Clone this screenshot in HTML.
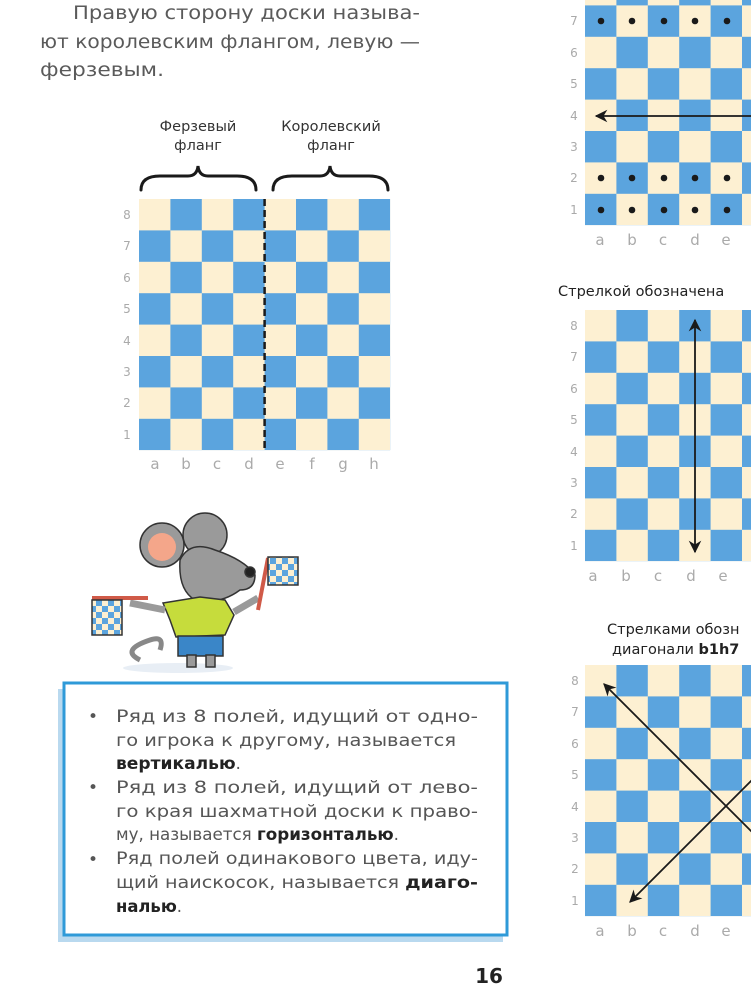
<!DOCTYPE html>
<html><head><meta charset="utf-8"><style>
html,body{margin:0;padding:0;background:#fff;width:751px;height:1001px;overflow:hidden}
svg{display:block}
.t{font-family:"DejaVu Sans","Liberation Sans",sans-serif}
</style></head><body>
<svg width="751" height="1001" viewBox="0 0 751 1001" xmlns="http://www.w3.org/2000/svg">
<defs>
<pattern id="p1" patternUnits="userSpaceOnUse" x="139" y="199" width="62.8" height="62.8"><rect width="62.8" height="62.8" fill="#fdf0d2"/><rect x="31.4" width="31.4" height="31.4" fill="#5ba4de"/><rect y="31.4" width="31.4" height="31.4" fill="#5ba4de"/></pattern>
<pattern id="p2" patternUnits="userSpaceOnUse" x="585" y="-26" width="62.8" height="62.8"><rect width="62.8" height="62.8" fill="#fdf0d2"/><rect x="31.4" width="31.4" height="31.4" fill="#5ba4de"/><rect y="31.4" width="31.4" height="31.4" fill="#5ba4de"/></pattern>
<pattern id="p3" patternUnits="userSpaceOnUse" x="585" y="310" width="62.8" height="62.8"><rect width="62.8" height="62.8" fill="#fdf0d2"/><rect x="31.4" width="31.4" height="31.4" fill="#5ba4de"/><rect y="31.4" width="31.4" height="31.4" fill="#5ba4de"/></pattern>
<pattern id="p4" patternUnits="userSpaceOnUse" x="585" y="665" width="62.8" height="62.8"><rect width="62.8" height="62.8" fill="#fdf0d2"/><rect x="31.4" width="31.4" height="31.4" fill="#5ba4de"/><rect y="31.4" width="31.4" height="31.4" fill="#5ba4de"/></pattern>
<pattern id="fl" patternUnits="userSpaceOnUse" width="12" height="12"><rect width="12" height="12" fill="#fdf0d2"/><rect width="6" height="6" fill="#5ba4de"/><rect x="6" y="6" width="6" height="6" fill="#5ba4de"/></pattern>
<marker id="ah" viewBox="0 0 10 10" refX="9" refY="5" markerWidth="7" markerHeight="7" orient="auto-start-reverse"><path d="M0,0 L10,5 L0,10 L3,5z" fill="#1a1a1a"/></marker>
</defs>

<g class="t" font-size="19" fill="#5a5a5a">
<text x="73" y="19" textLength="347" lengthAdjust="spacingAndGlyphs">Правую сторону доски называ-</text>
<text x="40" y="48" textLength="380" lengthAdjust="spacingAndGlyphs">ют королевским флангом, левую —</text>
<text x="40" y="76" textLength="124" lengthAdjust="spacingAndGlyphs">ферзевым.</text>
</g>

<g class="t" font-size="14.5" fill="#333" text-anchor="middle">
<text x="198" y="131">Ферзевый</text><text x="198" y="150">фланг</text>
<text x="331" y="131">Королевский</text><text x="331" y="150">фланг</text>
</g>
<g fill="none" stroke="#1a1a1a" stroke-width="3" stroke-linecap="round">
<path d="M141,190 Q141,176 160,176 L188,176 Q197,176 198,166 Q199,176 208,176 L237,176 Q256,176 256,190"/>
<path d="M273,190 Q273,176 292,176 L320,176 Q329,176 330,166 Q331,176 340,176 L369,176 Q388,176 388,190"/>
</g>

<rect x="139" y="199" width="251.2" height="251.2" fill="url(#p1)"/>
<line x1="264.6" y1="199" x2="264.6" y2="451" stroke="#1a1a1a" stroke-width="2.5" stroke-dasharray="7,4"/>
<g class="t" font-size="12" fill="#aaa" text-anchor="middle">
<text x="127" y="219">8</text><text x="127" y="250">7</text><text x="127" y="282">6</text><text x="127" y="313">5</text><text x="127" y="345">4</text><text x="127" y="376">3</text><text x="127" y="407">2</text><text x="127" y="439">1</text>
</g>
<g class="t" font-size="15" fill="#aaa" text-anchor="middle">
<text x="155" y="469">a</text><text x="186" y="469">b</text><text x="217" y="469">c</text><text x="249" y="469">d</text><text x="280" y="469">e</text><text x="312" y="469">f</text><text x="343" y="469">g</text><text x="374" y="469">h</text>
</g>

<rect x="585" y="-26" width="251.2" height="251.2" fill="url(#p2)"/>
<g fill="#1a1a1a">
<circle cx="601" cy="21" r="3.3"/><circle cx="632" cy="21" r="3.3"/><circle cx="664" cy="21" r="3.3"/><circle cx="695" cy="21" r="3.3"/><circle cx="727" cy="21" r="3.3"/>
<circle cx="601" cy="178" r="3.3"/><circle cx="632" cy="178" r="3.3"/><circle cx="664" cy="178" r="3.3"/><circle cx="695" cy="178" r="3.3"/><circle cx="727" cy="178" r="3.3"/>
<circle cx="601" cy="210" r="3.3"/><circle cx="632" cy="210" r="3.3"/><circle cx="664" cy="210" r="3.3"/><circle cx="695" cy="210" r="3.3"/><circle cx="727" cy="210" r="3.3"/>
</g>
<line x1="760" y1="116" x2="596" y2="116" stroke="#1a1a1a" stroke-width="1.8" marker-end="url(#ah)"/>
<g class="t" font-size="12" fill="#aaa" text-anchor="middle">
<text x="574" y="25">7</text><text x="574" y="57">6</text><text x="574" y="88">5</text><text x="574" y="120">4</text><text x="574" y="151">3</text><text x="574" y="182">2</text><text x="574" y="214">1</text>
</g>
<g class="t" font-size="15" fill="#aaa" text-anchor="middle">
<text x="600" y="245">a</text><text x="632" y="245">b</text><text x="663" y="245">c</text><text x="695" y="245">d</text><text x="726" y="245">e</text>
</g>

<text class="t" x="558" y="296" font-size="14.5" fill="#222">Стрелкой обозначена</text>

<rect x="585" y="310" width="251.2" height="251.2" fill="url(#p3)"/>
<line x1="695" y1="552" x2="695" y2="320" stroke="#1a1a1a" stroke-width="1.8" marker-start="url(#ah)" marker-end="url(#ah)"/>
<g class="t" font-size="12" fill="#aaa" text-anchor="middle">
<text x="574" y="330">8</text><text x="574" y="361">7</text><text x="574" y="393">6</text><text x="574" y="424">5</text><text x="574" y="456">4</text><text x="574" y="487">3</text><text x="574" y="518">2</text><text x="574" y="550">1</text>
</g>
<g class="t" font-size="15" fill="#aaa" text-anchor="middle">
<text x="593" y="581">a</text><text x="626" y="581">b</text><text x="658" y="581">c</text><text x="691" y="581">d</text><text x="723" y="581">e</text>
</g>

<g class="t" font-size="14.5" fill="#222">
<text x="607" y="634">Стрелками обозн</text>
<text x="612" y="654">диагонали <tspan font-weight="bold">b1h7</tspan></text>
</g>

<rect x="585" y="665" width="251.2" height="251.2" fill="url(#p4)"/>
<line x1="760" y1="840" x2="604" y2="684" stroke="#1a1a1a" stroke-width="1.8" marker-end="url(#ah)"/>
<line x1="760" y1="772" x2="630" y2="902" stroke="#1a1a1a" stroke-width="1.8" marker-end="url(#ah)"/>
<g class="t" font-size="12" fill="#aaa" text-anchor="middle">
<text x="575" y="685">8</text><text x="575" y="716">7</text><text x="575" y="748">6</text><text x="575" y="779">5</text><text x="575" y="811">4</text><text x="575" y="842">3</text><text x="575" y="873">2</text><text x="575" y="905">1</text>
</g>
<g class="t" font-size="15" fill="#aaa" text-anchor="middle">
<text x="600" y="936">a</text><text x="632" y="936">b</text><text x="663" y="936">c</text><text x="695" y="936">d</text><text x="726" y="936">e</text>
</g>

<g stroke="#333" stroke-width="1.5">
<ellipse cx="178" cy="668" rx="55" ry="5" fill="#e8eef5" stroke="none"/>
<path d="M140,660 Q120,650 150,640 Q165,635 160,650" fill="none" stroke-width="5" stroke="#888"/>
<circle cx="162" cy="545" r="22" fill="#9a9a9a"/>
<circle cx="162" cy="547" r="14" fill="#f4a68a" stroke="none"/>
<circle cx="205" cy="535" r="22" fill="#9a9a9a"/>
<path d="M180,560 Q190,540 215,550 Q245,560 255,575 Q255,590 240,590 Q220,605 195,600 Q178,590 180,560z" fill="#9a9a9a"/>
<circle cx="250" cy="572" r="5" fill="#222"/>
<path d="M163,603 L200,597 L225,600 L234,615 L225,635 L176,637 L170,620z" fill="#c6dc3c"/>
<rect x="178" y="636" width="45" height="20" fill="#3a86c8"/>
<rect x="187" y="655" width="9" height="12" fill="#9a9a9a"/><rect x="206" y="655" width="9" height="12" fill="#9a9a9a"/>
<path d="M165,610 L130,603" stroke="#9a9a9a" stroke-width="7"/>
<path d="M234,612 L258,598" stroke="#9a9a9a" stroke-width="7"/>
<line x1="92" y1="598" x2="148" y2="598" stroke="#d05a48" stroke-width="4"/>
<rect x="92" y="600" width="30" height="35" fill="url(#fl)"/>
<line x1="268" y1="558" x2="258" y2="610" stroke="#d05a48" stroke-width="4"/>
<rect x="268" y="557" width="30" height="28" fill="url(#fl)"/>
</g>

<rect x="58" y="689" width="445" height="253" fill="#b9d9ef"/>
<rect x="64" y="683" width="443" height="252" fill="#fff" stroke="#2f9ad8" stroke-width="3"/>
<g class="t" font-size="17" fill="#555">
<text x="88" y="722">•</text><text x="88" y="793">•</text><text x="88" y="865">•</text>
<text x="116" y="722" textLength="362" lengthAdjust="spacingAndGlyphs">Ряд из 8 полей, идущий от одно-</text>
<text x="116" y="746" textLength="340" lengthAdjust="spacingAndGlyphs">го игрока к другому, называется</text>
<text x="116" y="769" textLength="125" lengthAdjust="spacingAndGlyphs"><tspan font-weight="bold" fill="#222">вертикалью</tspan>.</text>
<text x="116" y="793" textLength="362" lengthAdjust="spacingAndGlyphs">Ряд из 8 полей, идущий от лево-</text>
<text x="116" y="817" textLength="362" lengthAdjust="spacingAndGlyphs">го края шахматной доски к право-</text>
<text x="116" y="840" textLength="283" lengthAdjust="spacingAndGlyphs">му, называется <tspan font-weight="bold" fill="#222">горизонталью</tspan>.</text>
<text x="116" y="864" textLength="362" lengthAdjust="spacingAndGlyphs">Ряд полей одинакового цвета, иду-</text>
<text x="116" y="888" textLength="362" lengthAdjust="spacingAndGlyphs">щий наискосок, называется <tspan font-weight="bold" fill="#222">диаго-</tspan></text>
<text x="116" y="912" textLength="66" lengthAdjust="spacingAndGlyphs"><tspan font-weight="bold" fill="#222">налью</tspan>.</text>
</g>

<text class="t" x="489" y="983" font-size="20" font-weight="bold" fill="#222" text-anchor="middle">16</text>
</svg>
</body></html>
